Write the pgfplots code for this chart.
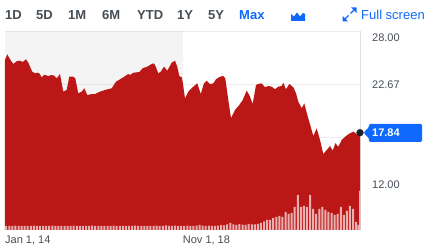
\documentclass[border=0pt]{standalone}
\usepackage{pgfplots}
\usepackage{pgfplotstable}
\pgfplotsset{compat=1.18}
\usepackage{fontspec}
\setmainfont{Liberation Sans}
\definecolor{yred}{RGB}{188,23,23}
\definecolor{ygray}{RGB}{70,78,86}
\definecolor{yblue}{RGB}{15,105,255}
\definecolor{ygrid}{RGB}{234,235,238}
\definecolor{ygridd}{RGB}{228,229,232}
\definecolor{yshade}{RGB}{244,244,244}
\definecolor{yvol}{RGB}{234,176,176}
\definecolor{ydot}{RGB}{30,34,40}
\definecolor{yaxis}{RGB}{222,225,231}

\pgfplotstableread{
m v
0 25.14
0.75 25.71
1.63 25.21
2.70 24.74
3.81 25.01
4.89 25.07
5.77 24.94
6.84 25.21
7.59 24.87
8.89 23.96
9.77 23.80
10.52 23.86
11.18 23.80
11.96 23.40
12.80 23.66
14.11 23.53
15.21 23.63
16.06 23.56
16.84 23.30
17.92 23.73
18.99 21.96
20.10 22.13
20.95 23.46
22.25 23.46
22.90 23.30
23.88 21.80
24.99 21.96
25.84 22.30
26.81 21.62
28.25 21.72
29.32 21.72
30.95 21.96
32.58 22.13
34.76 22.30
36.17 22.96
37.47 23.20
38.54 23.40
40.17 23.73
40.73 23.63
41.80 23.86
43.76 23.93
44.87 24.31
46.37 24.47
47.25 24.64
48.32 24.81
48.88 24.64
49.95 23.80
50.73 23.96
51.81 24.47
52.88 24.06
54.31 24.87
55.39 25.07
56.14 24.47
56.79 23.53
57.58 23.40
57.90 22.96
58.65 21.29
59.73 21.96
61.36 22.46
62.66 22.80
63.77 21.72
64.84 22.80
65.72 23.06
66.80 22.70
67.87 22.80
68.75 23.20
70.05 23.46
71.13 23.53
71.78 23.30
72.76 21.12
73.64 19.29
74.94 20.12
76.34 20.62
77.45 21.12
78.75 22.06
79.60 21.62
80.71 20.72
81.78 22.63
82.53 22.73
83.64 22.80
84.71 22.40
85.79 22.53
86.90 22.46
87.97 22.20
89.05 22.46
90.15 22.53
90.68 22.86
91.56 22.20
92.64 22.73
93.94 22.40
94.82 21.80
95.57 20.95
96.68 20.29
97.52 20.79
98.50 19.62
99.61 18.44
100.46 17.51
101.56 18.28
102.64 17.11
103.71 15.70
104.82 16.10
105.90 16.50
106.78 16.03
107.63 16.78
108.60 16.43
109.71 17.11
111.11 17.51
112.41 17.78
113.49 17.94
114.60 17.71
115.67 17.84
}\price

% monthly volume, millions of shares (bar height 2 px per unit)
\pgfplotstableread{
m vol
0.4 2.1
1.4 2.0
2.4 2.0
3.4 2.2
4.4 2.0
5.4 2.0
6.4 2.1
7.4 2.0
8.4 2.0
9.4 2.2
10.4 2.0
11.4 2.0
12.4 2.1
13.4 2.0
14.4 2.0
15.4 2.2
16.4 2.0
17.4 2.0
18.4 2.0
19.4 2.1
20.4 2.0
21.4 2.0
22.4 2.2
23.4 2.0
24.4 2.0
25.4 2.0
26.4 2.1
27.4 2.0
28.4 2.2
29.4 2.0
30.4 2.0
31.4 2.1
32.4 2.0
33.4 2.0
34.4 2.0
35.4 2.2
36.4 2.0
37.4 2.0
38.4 2.1
39.4 2.0
40.4 2.0
41.4 2.0
42.4 2.2
43.4 2.0
44.4 2.0
45.4 2.1
46.4 2.0
47.4 2.0
48.4 2.0
49.4 2.2
50.4 2.1
51.4 2.0
52.4 2.3
53.4 2.0
54.4 2.0
55.4 2.2
56.4 2.0
57.4 2.0
58.4 2.0
59.4 2.2
60.4 2.1
61.4 2.0
62.4 2.2
63.4 2.6
64.4 2.2
65.4 2.0
66.4 2.2
67.4 2.0
68.4 2.0
69.4 2.2
70.4 2.4
71.4 2.3
72.4 2.8
73.4 3.6
74.4 2.8
75.4 2.6
76.4 2.9
77.4 2.7
78.4 2.6
79.4 3.0
80.4 2.8
81.4 2.8
82.4 3.0
83.4 3.5
84.4 4.3
85.4 5.0
86.4 5.0
87.4 6.0
88.4 6.5
89.4 7.0
90.4 6.5
91.4 9.0
92.4 8.0
93.4 8.5
94.4 11.5
95.4 17.5
96.4 11.5
97.4 12.0
98.4 11.5
99.4 17.5
100.4 10.5
101.4 8.0
102.4 10.5
103.4 11.5
104.4 10.0
105.4 9.0
106.4 8.5
107.4 7.5
108.4 8.0
109.4 11.5
110.4 7.5
111.4 9.5
112.4 12.0
113.4 10.5
114.4 4.0
115.2 2.5
115.67 19.5
}\volume

\begin{document}
\begin{tikzpicture}[x=1pt,y=1pt]
\path (0,0) rectangle (434,246);
% toolbar
\begin{scope}[every node/.style={anchor=base west, inner sep=0pt, font=\fontsize{13}{15}\selectfont\bfseries, text=ygray}]
\node at (5,226.3) {1D};
\node at (36,226.3) {5D};
\node at (68,226.3) {1M};
\node at (102,226.3) {6M};
\node at (137,226.3) {YTD};
\node at (177,226.3) {1Y};
\node at (208,226.3) {5Y};
\node[text=yblue] at (239,226.3) {Max};
\node[text=yblue, font=\fontsize{13}{15}\selectfont] at (361,226.3) {Full screen};
\end{scope}
% chart-type icon
\fill[yblue] (291,225) -- (291,232) -- (294,229.5) -- (297,233.5) -- (300,229.5) -- (303,233) -- (305,232) -- (305,225) -- cycle;
% full screen icon
\fill[yblue] (356.5,238.5) -- (351,238.5) -- (356.5,233) -- cycle;
\draw[yblue, line width=1.4pt] (354,236) -- (350.5,232.5);
\fill[yblue] (342.5,224.5) -- (348,224.5) -- (342.5,230) -- cycle;
\draw[yblue, line width=1.4pt] (345,227) -- (348.5,230.5);

% right axis line
\draw[yaxis, line width=0.9pt] (360.2,16) -- (360.2,214.5);
% last price tag
\fill[yblue, rounded corners=1.2pt] (363.5,113.3) -- (369,119) -- (369,122) -- (422,122) -- (422,104.2) -- (369,104.2) -- (369,107.6) -- cycle;
\node[anchor=west, inner sep=0pt, text=white, font=\fontsize{11}{13}\selectfont\bfseries] at (372,113.3) {17.84};

\begin{axis}[
  at={(5pt,16pt)}, anchor=south west,
  width=355pt, height=198.5pt, scale only axis,
  xmin=0, xmax=115.67, ymin=8.07, ymax=28,
  axis line style={draw=none}, major tick length=0pt,
  ytick={12,17.33,22.67,28},
  yticklabels={\smash{\raisebox{1.9pt}{12.00}},{},\smash{\raisebox{-4pt}{22.67}},\smash{\raisebox{-10.2pt}{28.00}}},
  yticklabel pos=right,
  yticklabel style={anchor=west, inner sep=0pt, xshift=12pt, font=\fontsize{11}{13}\selectfont, text=ygray},
  ymajorgrids, grid style={ygrid, line width=0.8pt},
  xtick={0,57.9}, xticklabels={{Jan 1, 14},{Nov 1, 18}},
  xticklabel style={anchor=north west, inner sep=0pt, yshift=-6pt, font=\fontsize{11}{13}\selectfont, text=ygray},
]
\addplot[draw=none, fill=yshade] coordinates {(0,28) (57.9,28)} \closedcycle;
\addplot[ygridd, line width=0.8pt] coordinates {(0,22.67) (57.9,22.67)};
\addplot[ygridd, line width=0.8pt] coordinates {(0,27.97) (57.9,27.97)};
\addplot[draw=none, fill=yred] table[x=m,y=v]{\price} \closedcycle;
\addplot[ybar, bar width=2pt, draw=none, fill=yvol] table[x=m, y expr={8.07+\thisrow{vol}*2/9.96}]{\volume};
\end{axis}

\begin{axis}[
  at={(5pt,16pt)}, anchor=south west,
  width=355pt, height=198.5pt, scale only axis,
  xmin=0, xmax=115.67, ymin=8.07, ymax=28,
  hide axis, clip=false,
]
\addplot[only marks, mark=*, mark size=3.4pt, mark options={fill=ydot, draw=ydot}] coordinates {(115.67,17.84)};
\end{axis}
\end{tikzpicture}
\end{document}
